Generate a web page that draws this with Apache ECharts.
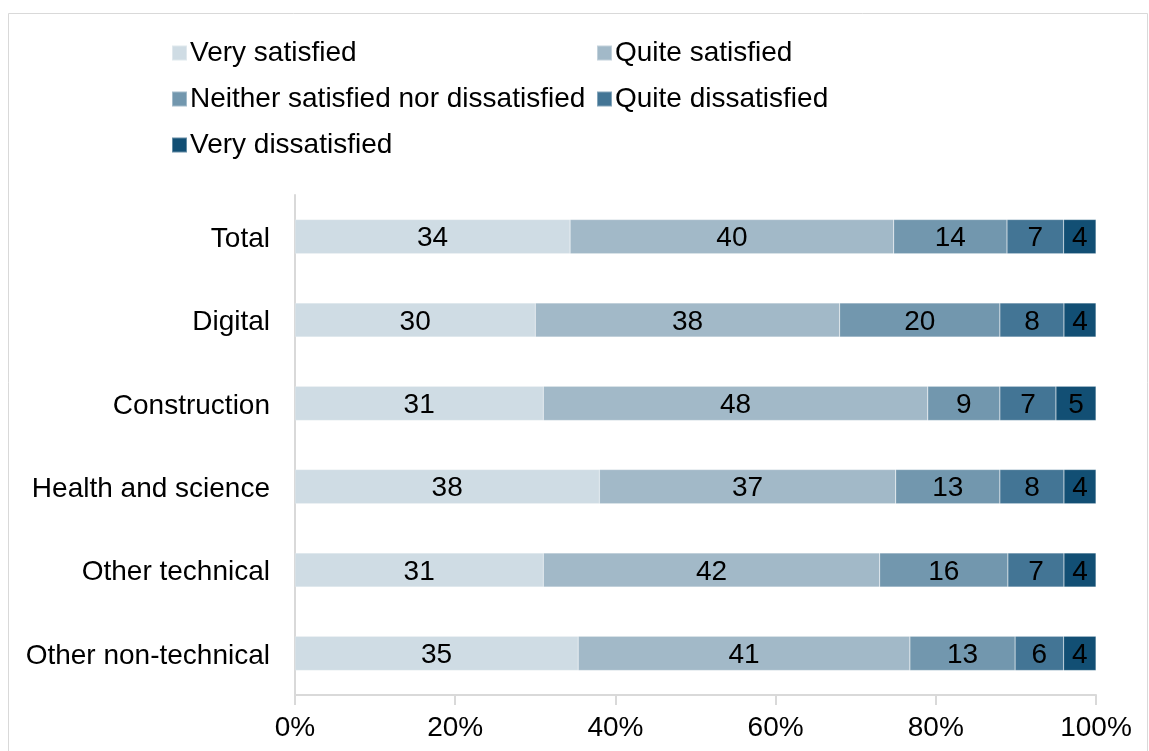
<!DOCTYPE html>
<html>
<head>
<meta charset="utf-8">
<script src="https://cdn.jsdelivr.net/npm/echarts@6/dist/echarts.min.js"></script>
<style>
  html, body { margin: 0; padding: 0; background: #ffffff; }
  #chart { width: 1149px; height: 751px; }
</style>
</head>
<body>
<div id="chart"></div>
<script>
// Satisfaction by route (percentages, rounded)
const categories = ['Total', 'Digital', 'Construction', 'Health and science', 'Other technical', 'Other non-technical'];
const seriesNames = ['Very satisfied', 'Quite satisfied', 'Neither satisfied nor dissatisfied', 'Quite dissatisfied', 'Very dissatisfied'];
const verySatisfied     = [34, 30, 31, 38, 31, 35];
const quiteSatisfied    = [40, 38, 48, 37, 42, 41];
const neither           = [14, 20,  9, 13, 16, 13];
const quiteDissatisfied = [ 7,  8,  7,  8,  7,  6];
const veryDissatisfied  = [ 4,  4,  5,  4,  4,  4];
const tickLabels = ['0%', '20%', '40%', '60%', '80%', '100%'];

const seriesValues = [verySatisfied, quiteSatisfied, neither, quiteDissatisfied, veryDissatisfied];
const colors = ['#cfdce4', '#a2b9c8', '#7297ae', '#437595', '#124f74'];

// Each row is shown as a share of its own total (100% stacked)
const rowTotals = categories.map((_, i) => seriesValues.reduce((s, arr) => s + arr[i], 0));

const FONT = 'Liberation Sans, Arial, sans-serif';
const FS = 28;

const series = seriesNames.map((name, k) => ({
  name,
  type: 'bar',
  stack: 'all',
  barCategoryGap: '59%',
  itemStyle: { color: colors[k], borderColor: 'rgba(255,255,255,0.35)', borderWidth: 0.5 },
  label: {
    show: true,
    position: 'inside',
    offset: [0, 2],
    color: '#000000',
    fontFamily: FONT,
    fontSize: FS,
    formatter: p => String(seriesValues[k][p.dataIndex])
  },
  data: seriesValues[k].map((v, i) => v / rowTotals[i] * 100)
}));

const legendText = { fontFamily: FONT, fontSize: FS, color: '#000000', padding: [4, 0, 0, -2] };

const chart = echarts.init(document.getElementById('chart'), null, { renderer: 'canvas' });
chart.setOption({
  backgroundColor: '#ffffff',
  animation: false,
  color: colors,
  graphic: [{
    type: 'rect',
    shape: { x: 8.5, y: 13.5, width: 1139, height: 760 },
    style: { fill: 'none', stroke: '#d9d9d9', lineWidth: 1 },
    silent: true
  }],
  legend: [
    {
      data: [seriesNames[0], seriesNames[2], seriesNames[4]],
      orient: 'vertical',
      left: 171, top: 39,
      itemWidth: 15, itemHeight: 15, itemGap: 18,
      icon: 'rect',
      textStyle: legendText,
      padding: 0
    },
    {
      data: [seriesNames[1], seriesNames[3]],
      orient: 'vertical',
      left: 596, top: 39,
      itemWidth: 15, itemHeight: 15, itemGap: 18,
      icon: 'rect',
      textStyle: legendText,
      padding: 0
    }
  ],
  grid: { left: 295, right: 53, top: 195, bottom: 56, containLabel: false },
  xAxis: {
    type: 'value',
    min: 0, max: 100, interval: 20,
    axisLine: { show: true, lineStyle: { color: '#d9d9d9', width: 2 } },
    axisTick: { show: true, length: 10, lineStyle: { color: '#d9d9d9', width: 2 } },
    splitLine: { show: false },
    axisLabel: {
      fontFamily: FONT, fontSize: FS, color: '#000000', margin: 19,
      formatter: v => tickLabels[Math.round(v / 20)]
    }
  },
  yAxis: {
    type: 'category',
    data: categories,
    inverse: true,
    axisLine: { show: true, lineStyle: { color: '#d9d9d9', width: 2 } },
    axisTick: { show: false },
    axisLabel: {
      margin: 25,
      formatter: v => '{c|' + v + '}',
      rich: { c: { fontFamily: FONT, fontSize: FS, color: '#000000', padding: [5, 0, 0, 0] } }
    }
  },
  series
});
</script>
</body>
</html>
